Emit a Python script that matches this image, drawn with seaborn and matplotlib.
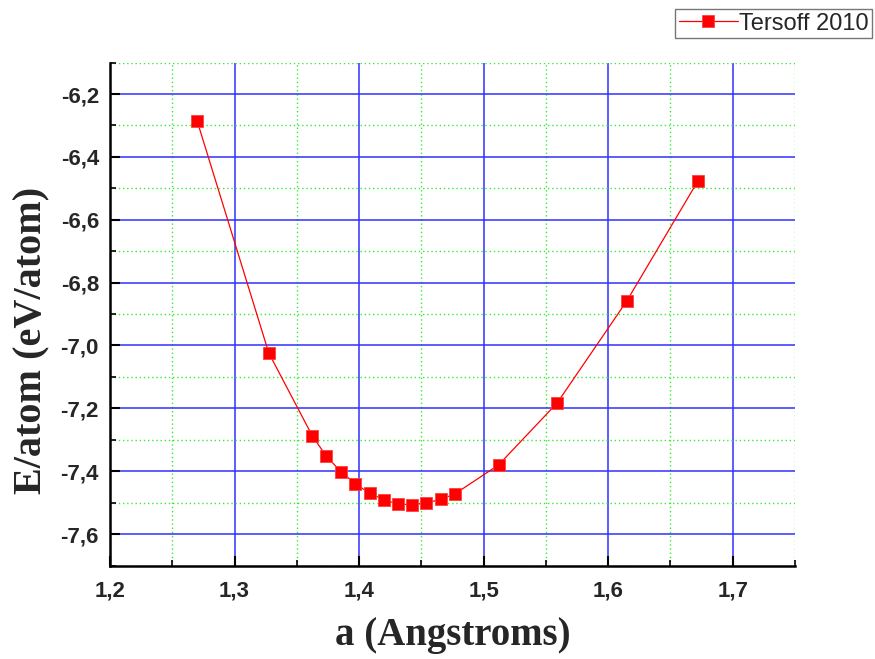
import matplotlib
matplotlib.use("Agg")
import matplotlib.pyplot as plt
import matplotlib.ticker as mticker
import seaborn as sns
import pandas as pd

a_values = [1.270, 1.3275, 1.3625, 1.3735, 1.3855, 1.397, 1.4085, 1.420, 1.431, 1.4425,
            1.4535, 1.4655, 1.477, 1.512, 1.559, 1.615, 1.672]
e_values = [-6.286, -7.024, -7.288, -7.351, -7.402, -7.440, -7.470, -7.491, -7.504, -7.507,
            -7.501, -7.490, -7.472, -7.380, -7.183, -6.858, -6.477]
series_name = "Tersoff 2010"

df = pd.DataFrame({"a": a_values, "E": e_values, "s": series_name})

sns.set_style("white")
fig = plt.figure(figsize=(8.75, 6.59), dpi=100)
ax = fig.add_axes([110/875, 1 - 565.5/659, (795-110)/875, (565.5-62.6)/659])

sns.lineplot(data=df, x="a", y="E", hue="s", palette=["red"], marker="s", markersize=8.5,
             markeredgecolor="#ff4040", markeredgewidth=0.6, linewidth=0.9,
             estimator=None, sort=False, ax=ax, legend=True)

ax.set_xlim(1.2, 1.75)
ax.set_ylim(-7.7, -6.1)
ax.xaxis.set_major_locator(mticker.MultipleLocator(0.1))
ax.xaxis.set_minor_locator(mticker.MultipleLocator(0.05))
ax.yaxis.set_major_locator(mticker.MultipleLocator(0.2))
ax.yaxis.set_minor_locator(mticker.MultipleLocator(0.1))
fmt = mticker.FuncFormatter(lambda v, p: f"{v:.1f}".replace(".", ","))
ax.xaxis.set_major_formatter(fmt)
ax.yaxis.set_major_formatter(fmt)

ax.grid(which="major", color="#3030ff", linewidth=1.1, linestyle="-")
ax.grid(which="minor", color="#33ee33", linewidth=1.0, linestyle=(0, (1, 2)))
ax.set_axisbelow(True)

for s in ["top", "right"]:
    ax.spines[s].set_visible(False)
for s in ["left", "bottom"]:
    ax.spines[s].set_color("black")
    ax.spines[s].set_linewidth(1.8)

ax.tick_params(which="major", direction="in", length=7.5, width=1.5, color="black",
               labelsize=16, left=True, bottom=True)
ax.tick_params(which="minor", direction="in", length=4, width=1.2, color="black",
               left=True, bottom=True)
ax.tick_params(axis="y", which="major", pad=8)
ax.tick_params(axis="x", which="major", pad=11)
for lab in ax.get_xticklabels() + ax.get_yticklabels():
    lab.set_fontweight("bold")
    lab.set_fontfamily("Liberation Sans")

ax.set_xlabel("a (Angstroms)", fontsize=28, fontweight="bold", family="Liberation Serif", labelpad=11)
ax.set_ylabel("E/atom (eV/atom)", fontsize=29, fontweight="bold", family="Liberation Serif")
ax.yaxis.set_label_coords((50 - 110) / 685, (565.5 - 340) / 503)

handles, labels = ax.get_legend_handles_labels()
leg = fig.legend(handles, [series_name], loc="upper right", bbox_to_anchor=(872/875, 1 - 9/659),
                 frameon=True, fancybox=False, edgecolor="#555555",
                 prop={"family": "Liberation Sans", "size": 17}, handlelength=2.5,
                 handletextpad=0.05, borderpad=0.15, borderaxespad=0)
leg.get_frame().set_linewidth(1.0)
if ax.get_legend() is not None:
    ax.get_legend().remove()

fig.savefig("out.png", dpi=100)
